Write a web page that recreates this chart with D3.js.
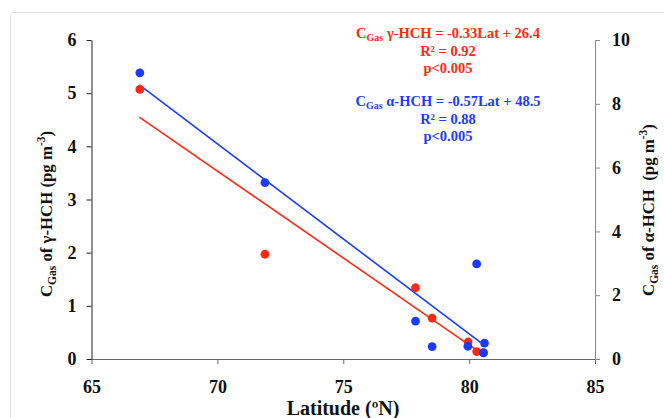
<!DOCTYPE html>
<html><head><meta charset="utf-8">
<script src="https://cdn.jsdelivr.net/npm/d3@7"></script>
<style>
html,body{margin:0;padding:0;background:#fff;}
svg{display:block;font-family:"Liberation Serif","Times New Roman",serif;font-weight:bold;}
</style></head>
<body>
<svg id="c" width="664" height="418"></svg>
<script>
// Data
const gammaLat = [66.92, 71.89, 77.87, 78.53, 79.96, 80.30, 80.57];
const gammaVal = [5.07, 1.97, 1.34, 0.77, 0.32, 0.14, 0.12];        // left axis, pg m-3
const alphaLat = [66.92, 71.89, 77.87, 78.53, 79.95, 80.30, 80.61, 80.57];
const alphaVal = [8.97, 5.53, 1.19, 0.39, 0.40, 2.98, 0.50, 0.19]; // right axis, pg m-3
const gammaFitLat = [66.90, 80.63];
const gammaFitVal = [4.55, 0.06];
const alphaFitLat = [66.90, 80.45];
const alphaFitVal = [8.59, 0.52];
const xTicks = [65, 70, 75, 80, 85];
const yLeftTicks = [0, 1, 2, 3, 4, 5, 6];
const yRightTicks = [0, 2, 4, 6, 8, 10];
const gammaText = ["γ-HCH = -0.33Lat + 26.4", "R² = 0.92", "p<0.005"];
const alphaText = ["α-HCH = -0.57Lat + 48.5", "R² = 0.88", "p<0.005"];

const RED = "#ff2a14", BLUE = "#1a3cff";
const svg = d3.select("#c");

// frame
svg.append("rect").attr("x", 10.5).attr("y", 12.5).attr("width", 700).attr("height", 450)
  .attr("rx", 3).attr("fill", "none").attr("stroke", "#e2e2e2");

const x = d3.scaleLinear().domain([65, 85]).range([91.5, 595]);
const yL = d3.scaleLinear().domain([0, 6]).range([359, 40]);
const yR = d3.scaleLinear().domain([0, 10]).range([359, 40]);
const fmt = d3.format("d");

function styleText(g) {
  g.selectAll("text").attr("font-size", 18).attr("font-family", "Liberation Serif")
    .attr("font-weight", "bold").attr("fill", "#111");
}

// x axis
const gx = svg.append("g").attr("transform", "translate(0,359)")
  .call(d3.axisBottom(x).tickValues(xTicks).tickFormat(fmt).tickSize(5).tickPadding(16).tickSizeOuter(0));
gx.select(".domain").attr("stroke", "#666");
gx.selectAll(".tick line").attr("stroke", "#666");
styleText(gx);

// left axis
const gl = svg.append("g").attr("transform", "translate(91.5,0)")
  .call(d3.axisLeft(yL).tickValues(yLeftTicks).tickFormat(fmt).tickSize(5).tickPadding(10).tickSizeOuter(0));
gl.select(".domain").attr("stroke", "#222");
gl.selectAll(".tick line").attr("stroke", "#222");
styleText(gl);

// right axis
const gr = svg.append("g").attr("transform", "translate(595,0)")
  .call(d3.axisRight(yR).tickValues(yRightTicks).tickFormat(fmt).tickSize(5).tickPadding(12).tickSizeOuter(0));
gr.select(".domain").attr("stroke", "#888");
gr.selectAll(".tick line").attr("stroke", "#888");
styleText(gr);

// fit lines
const lineL = d3.line().x(d => x(d[0])).y(d => yL(d[1]));
const lineR = d3.line().x(d => x(d[0])).y(d => yR(d[1]));
svg.append("path").datum(d3.zip(gammaFitLat, gammaFitVal)).attr("d", lineL)
  .attr("stroke", RED).attr("stroke-width", 1.6).attr("fill", "none");
svg.append("path").datum(d3.zip(alphaFitLat, alphaFitVal)).attr("d", lineR)
  .attr("stroke", BLUE).attr("stroke-width", 1.6).attr("fill", "none");

// points
svg.append("g").selectAll("circle").data(d3.zip(gammaLat, gammaVal)).join("circle")
  .attr("cx", d => x(d[0])).attr("cy", d => yL(d[1])).attr("r", 4.4).attr("fill", RED);
svg.append("g").selectAll("circle").data(d3.zip(alphaLat, alphaVal)).join("circle")
  .attr("cx", d => x(d[0])).attr("cy", d => yR(d[1])).attr("r", 4.4).attr("fill", BLUE);

// equation annotations
function eq(lines, color, y0) {
  lines.forEach((t, i) => {
    const tx = svg.append("text").attr("x", 448).attr("y", y0 + i * 17.5)
      .attr("text-anchor", "middle").attr("font-size", 14.5).attr("fill", color);
    if (i === 0) {
      tx.append("tspan").text("C");
      tx.append("tspan").attr("font-size", 10).attr("dy", 3).text("Gas");
      tx.append("tspan").attr("dy", -3).text(" " + t);
    } else tx.text(t);
  });
}
eq(gammaText, RED, 38);
eq(alphaText, BLUE, 106);

// axis titles
svg.append("text").attr("x", 343).attr("y", 415).attr("text-anchor", "middle")
  .attr("font-size", 20).attr("fill", "#111").text("Latitude (ºN)");

function ytitle(cx, cy, mid) {
  const t = svg.append("text").attr("transform", `translate(${cx},${cy}) rotate(-90)`)
    .attr("text-anchor", "middle").attr("font-size", 16.8).attr("fill", "#111");
  t.append("tspan").text("C");
  t.append("tspan").attr("font-size", 11.5).attr("dy", 4).text("Gas");
  t.append("tspan").attr("dy", -4).text(mid);
  t.append("tspan").attr("font-size", 11.5).attr("dy", -7).text("-3");
  t.append("tspan").attr("dy", 7).text(")");
}
ytitle(52, 214, " of γ-HCH (pg m");
ytitle(654, 210, " of α-HCH\u00a0 (pg m");
</script>
</body></html>
